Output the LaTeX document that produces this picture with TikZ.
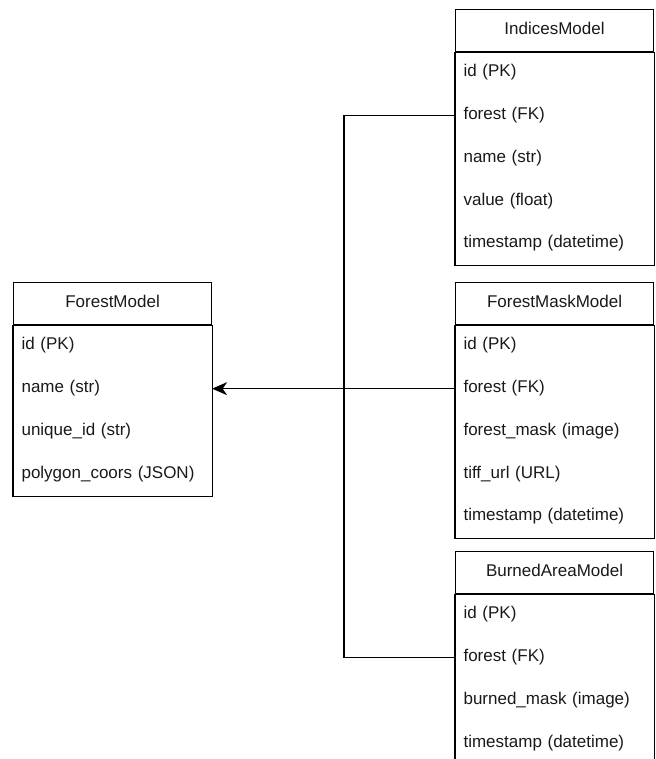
\documentclass[tikz,border=0pt]{standalone}
\usepackage{fontspec}
\setmainfont{Liberation Sans}
\usetikzlibrary{arrows.meta}
\begin{document}
\begin{tikzpicture}[x=1pt, y=-1pt,
  line width=1.1pt,
  tablefont/.style={font=\fontsize{17}{20}\selectfont, text=black!90},
  tablehead/.style={draw, tablefont, anchor=north west, minimum width=198pt,
    minimum height=42pt, inner sep=0pt, text height=12pt, text depth=4pt},
  field/.style={tablefont, anchor=north west, text width=182pt, inner xsep=8pt,
    inner ysep=0pt, minimum height=42.75pt, align=left, text height=12pt, text depth=4pt},
  tablebody/.style={draw},
  link/.style={draw},
  fkarrow/.style={draw, -{Stealth[length=15pt, width=13pt, inset=4.5pt]}}
]
\useasboundingbox (0,0) rectangle (655,759);
\clip (0,0) rectangle (655,759);

% ForestModel
\node[tablehead] (F) at (13,282) {ForestModel};
\foreach \t [count=\i from 0] in {id (PK), name (str), unique\_id (str), polygon\_coors (JSON)}
  \node[field] (F-\i) at (13,324+\i*42.75) {\t};
\draw[tablebody] (F.south west) rectangle (F-3.south east);

% IndicesModel
\node[tablehead] (I) at (455,9) {IndicesModel};
\foreach \t [count=\i from 0] in {id (PK), forest (FK), name (str), value (float), timestamp (datetime)}
  \node[field] (I-\i) at (455,51+\i*42.75) {\t};
\draw[tablebody] (I.south west) rectangle (I-4.south east);

% ForestMaskModel
\node[tablehead] (M) at (455,282) {ForestMaskModel};
\foreach \t [count=\i from 0] in {id (PK), forest (FK), forest\_mask (image), tiff\_url (URL), timestamp (datetime)}
  \node[field] (M-\i) at (455,324+\i*42.75) {\t};
\draw[tablebody] (M.south west) rectangle (M-4.south east);

% BurnedAreaModel
\node[tablehead] (B) at (455,551) {BurnedAreaModel};
\foreach \t [count=\i from 0] in {id (PK), forest (FK), burned\_mask (image), timestamp (datetime)}
  \node[field] (B-\i) at (455,593+\i*42.75) {\t};
\draw[tablebody] (B.south west) rectangle ([yshift=-10pt]B-3.south east);

% Foreign keys pointing to ForestModel
\coordinate (bus) at (344,0);
\draw[link] (I-1.west) -- (I-1.west -| bus) -- (B-1.west -| bus) -- (B-1.west);
\draw[fkarrow] (M-1.west) -- (F-1.east);
\end{tikzpicture}
\end{document}
